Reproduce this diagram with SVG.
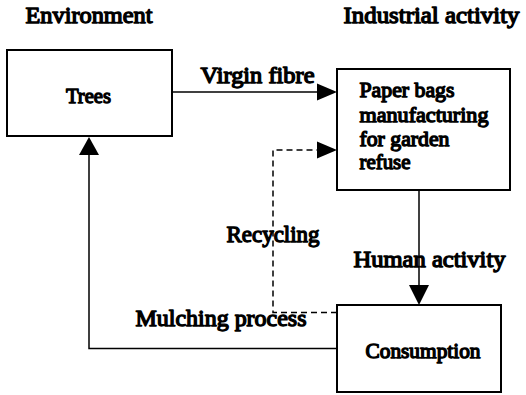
<svg xmlns="http://www.w3.org/2000/svg" width="526" height="395" viewBox="0 0 526 395">
  <style>
    .box { fill: #ffffff; stroke: #000000; stroke-width: 2; }
    .line { fill: none; stroke: #000000; stroke-width: 1.5; }
    .dash { fill: none; stroke: #000000; stroke-width: 1.5; stroke-dasharray: 6 4; }
    .head { fill: #000000; stroke: none; }
    /* heavy serif lettering: regular face thickened with an outline */
    .txt { fill: #000000; stroke: #000000; stroke-width: 1.3; stroke-linejoin: round; }
    .label { font-size: 22.5px; }
    .node { font-size: 20.5px; }
  </style>
  <rect width="526" height="395" fill="#ffffff"/>

  <!-- headings and flow labels -->
  <g font-family="Liberation Serif">
    <text class="txt label" x="25.5" y="23" textLength="127" lengthAdjust="spacingAndGlyphs">Environment</text>
    <text class="txt label" x="343.5" y="23" textLength="176" lengthAdjust="spacingAndGlyphs">Industrial activity</text>
    <text class="txt label" x="200.5" y="83" textLength="114" lengthAdjust="spacingAndGlyphs">Virgin fibre</text>
    <text class="txt label" x="226.5" y="242" textLength="93" lengthAdjust="spacingAndGlyphs">Recycling</text>
    <text class="txt label" x="353.5" y="267" textLength="152" lengthAdjust="spacingAndGlyphs">Human activity</text>
    <text class="txt label" x="135.5" y="326" textLength="171" lengthAdjust="spacingAndGlyphs">Mulching process</text>
  </g>

  <g id="connectors">
    <!-- trees to manufacturing -->
    <line class="line" x1="172" y1="92" x2="320" y2="92"/>
    <polygon class="head" points="337,92 317,83.5 317,100.5"/>
    <!-- recycling loop back into manufacturing -->
    <polyline class="dash" points="337,312.5 273,312.5 273,150 320,150"/>
    <polygon class="head" points="337,150 317,141.5 317,158.5"/>
    <!-- manufacturing to consumption -->
    <line class="line" x1="419" y1="190" x2="419" y2="288"/>
    <polygon class="head" points="419,305 409,285 429,285"/>
    <!-- mulching back to trees -->
    <polyline class="line" points="337,348.5 89,348.5 89,154"/>
    <polygon class="head" points="89,137 79,155 99,155"/>
  </g>

  <g id="trees" font-family="Liberation Serif">
    <rect class="box" x="7" y="50" width="165" height="86"/>
    <text class="txt node" x="66" y="103" textLength="45" lengthAdjust="spacingAndGlyphs">Trees</text>
  </g>

  <g id="manufacturing" font-family="Liberation Serif">
    <rect class="box" x="337" y="69" width="173" height="121"/>
    <text class="txt node" x="359.5" y="97" textLength="95" lengthAdjust="spacingAndGlyphs">Paper bags</text>
    <text class="txt node" x="359.5" y="122" textLength="129" lengthAdjust="spacingAndGlyphs">manufacturing</text>
    <text class="txt node" x="359.5" y="146" textLength="90" lengthAdjust="spacingAndGlyphs">for garden</text>
    <text class="txt node" x="359.5" y="169" textLength="51" lengthAdjust="spacingAndGlyphs">refuse</text>
  </g>

  <g id="consumption" font-family="Liberation Serif">
    <rect class="box" x="337" y="305" width="164" height="87"/>
    <text class="txt node" x="365.5" y="358" textLength="115" lengthAdjust="spacingAndGlyphs">Consumption</text>
  </g>
</svg>
